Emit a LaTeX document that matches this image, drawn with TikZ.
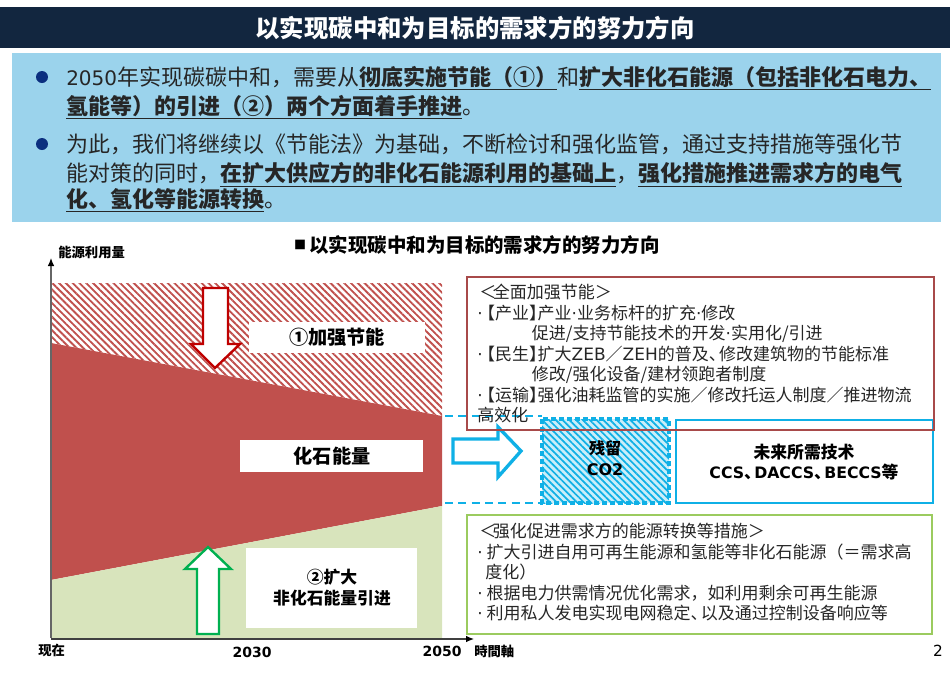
\documentclass[tikz,border=0pt]{standalone}
\usepackage{fontspec}
\setmainfont{Noto Sans CJK SC}
\newfontfamily\latfont{DejaVu Sans}
\newcommand{\lat}[1]{{\latfont #1}}
\newcommand{\ul}[1]{\underline{\textbf{#1}}}
\newcommand{\dotmark}{\lat{·}}
\newcommand{\leadmark}{\lat{·}\hspace{3pt}}
\newcommand{\lbrk}{\hspace{-0.5em}【}
\newcommand{\rbrk}{】\hspace{-0.5em}}
\newcommand{\dun}{、\hspace{-0.4em}}
\usepackage{xcolor}
\usepackage{tikz}
\usetikzlibrary{arrows.meta, patterns.meta}

\definecolor{TitleNavy}{HTML}{12263F}
\definecolor{PanelBlue}{HTML}{9BD3EC}
\definecolor{BulletBlue}{HTML}{0B2F7F}
\definecolor{FossilRed}{HTML}{C0504D}
\definecolor{RenewGreen}{HTML}{D8E4BC}
\definecolor{BoxRed}{HTML}{A84A4A}
\definecolor{BoxGreen}{HTML}{9BCB5F}
\definecolor{CoBlue}{HTML}{0FB0E6}
\definecolor{ArrowGreen}{HTML}{00B050}

\tikzset{
  every node/.style={inner sep=0pt, text=black},
  paratext/.style={anchor=north west, align=left, font=\fontsize{16.5}{21.75}\selectfont, text=black!85},
  boxtext/.style={anchor=north west, align=left, font=\fontsize{12.75}{15.4}\selectfont, text=black!85},
  labeltext/.style={align=center, font=\fontsize{14.4}{16}\selectfont\bfseries},
  smalllabel/.style={font=\fontsize{10}{12}\selectfont\bfseries},
  yearlabel/.style={font=\fontsize{10.5}{12}\selectfont\latfont\bfseries},
  hollow/.style={fill=white, line width=1.8pt, line join=miter},
  dashline/.style={draw=CoBlue, line width=1pt, dash pattern=on 6pt off 4pt},
}

\begin{document}
\begin{tikzpicture}[x=0.75pt, y=-0.75pt]
  \useasboundingbox (0,0) rectangle (950,672);

  % header
  \fill[TitleNavy] (0,7) rectangle (950,48);
  \node[text=white, font=\fontsize{18.3}{20}\selectfont\bfseries] (title) at (475,28) {以实现碳中和为目标的需求方的努力方向};
  \fill[PanelBlue] (12,53) rectangle (941,222);

  \fill[BulletBlue] (42,77) circle (6);
  \fill[BulletBlue] (42,144) circle (6);
  \node[paratext] (para1) at (66,66) {{\latfont\fontsize{15}{21.75}\selectfont 2050}年实现碳碳中和，需要从\ul{彻底实施节能（①）}和\ul{扩大非化石能源（包括非化石电力、}\\
    \ul{氢能等）的引进（②）两个方面着手推进}。};
  \node[paratext] (para2) at (66,134) {为此，我们将继续以《节能法》为基础，不断检讨和强化监管，通过支持措施等强化节\\
    能对策的同时，\ul{在扩大供应方的非化石能源利用的基础上}，\ul{强化措施推进需求方的电气}\\[-2.5pt]
    \ul{化、氢化等能源转换}。};

  \node[font=\fontsize{9}{10}\selectfont] (chart mark) at (300,245) {■};
  \node[font=\fontsize{14.6}{16}\selectfont\bfseries] (chart title) at (484.5,245) {以实现碳中和为目标的需求方的努力方向};

  % chart
  \coordinate (TL) at (51,283);
  \coordinate (TR) at (442,283);
  \coordinate (SL) at (51,343);
  \coordinate (SR) at (442,416);
  \coordinate (GL) at (51,580);
  \coordinate (GR) at (442,506);
  \coordinate (BL) at (51,638);
  \coordinate (BR) at (442,638);

  \fill[pattern={Lines[angle=-45, distance=3.6pt, line width=1.4pt]}, pattern color=FossilRed] (TL) -- (TR) -- (SR) -- (SL) -- cycle;
  \fill[FossilRed] (SL) -- (SR) -- (GR) -- (GL) -- cycle;
  \fill[RenewGreen] (GL) -- (GR) -- (BR) -- (BL) -- cycle;

  \coordinate (origin) at (51,638);
  \coordinate (ytop) at (51,258);
  \coordinate (xend) at (474,639);
  \draw[black!60, line width=0.9pt, -{Latex[black, length=6pt, width=5pt]}] (origin) -- (ytop);
  \draw[black!75, line width=0.9pt, -{Latex[black, length=6pt, width=5pt]}] (origin |- xend) -- (xend);

  \draw[hollow, draw=red!75!black] (203,288) -- (228,288) -- (228,344) -- (240,344) -- (215,368) -- (191,344) -- (203,344) -- cycle;
  \draw[hollow, draw=ArrowGreen] (197,634) -- (219,634) -- (219,569) -- (231,569) -- (208,547) -- (185,569) -- (197,569) -- cycle;

  \fill[white] (249,322) rectangle (425,353);
  \node[labeltext] (saving) at (337,337) {①加强节能};
  \fill[white] (240,440) rectangle (423,472);
  \node[labeltext] (fossil) at (332,456) {化石能量};
  \fill[white] (246,548) rectangle (417,628);
  \node[labeltext, font=\fontsize{12.6}{15.6}\selectfont\bfseries] (nonfossil) at (332,588) {②扩大\\非化石能量引进};

  \node[smalllabel, anchor=west] (yaxis) at (58,252) {能源利用量};
  \node[smalllabel, anchor=west] (now) at (38,650) {现在};
  \node[yearlabel] (y2030) at (252,652) {2030};
  \node[yearlabel] (y2050) at (442,651) {2050};
  \node[smalllabel, anchor=west] (xaxis) at (474,651) {時間軸};
  \node[font=\fontsize{11.5}{13}\selectfont\latfont] (page) at (938,651) {2};

  % residual part
  \coordinate (dashA) at (445,416);
  \coordinate (dashB) at (542,416);
  \coordinate (dashC) at (445,503);
  \coordinate (dashD) at (542,503);
  \draw[dashline] (dashA) -- (dashB);
  \draw[dashline] (dashC) -- (dashD);
  \draw[hollow, draw=CoBlue, line width=2.5pt] (453,439) -- (498,439) -- (498,427) -- (521,451) -- (498,477) -- (498,463) -- (453,463) -- cycle;

  \fill[CoBlue!22] (542,419) rectangle (669,503);
  \fill[pattern={Lines[angle=-45, distance=3.6pt, line width=1.3pt]}, pattern color=CoBlue] (542,419) rectangle (669,503);
  \draw[CoBlue, line width=2.4pt, dash pattern=on 4pt off 2pt] (542,419) rectangle (669,503);
  \node[labeltext, font=\fontsize{12}{15.6}\selectfont\bfseries] (residual) at (605,458) {残留\\\lat{CO2}};

  \draw[CoBlue, line width=1.8pt] (676,420) rectangle (933,503);
  \node[labeltext, font=\fontsize{12.6}{15}\selectfont\bfseries] (future) at (804,462) {未来所需技术\\{\latfont\fontsize{11.8}{15}\selectfont CCS}\dun{\latfont\fontsize{11.8}{15}\selectfont DACCS}\dun{\latfont\fontsize{11.8}{15}\selectfont BECCS}等};

  % text boxes
  \draw[BoxRed, line width=1.1pt] (467,277) rectangle (934,430);
  \node[boxtext] (savingtext) at (477,284) {\hspace{1.5pt}＜\hspace{-2.5pt}全面加强节能＞\\
    \leadmark\lbrk 产业\rbrk 产业\dotmark 业务标杆的扩充\dotmark 修改\\
    \hspace{41pt}促进/支持节能技术的开发\dotmark 实用化/引进\\
    \leadmark\lbrk 民生\rbrk 扩大\lat{ZEB}／\lat{ZEH}的普及\dun 修改建筑物的节能标准\\
    \hspace{41pt}修改/强化设备/建材领跑者制度\\
    \leadmark\lbrk 运输\rbrk 强化油耗监管的实施／修改托运人制度／推进物流\\
    高效化};

  \draw[BoxGreen, line width=1.8pt] (467,515) rectangle (932,634);
  \node[boxtext] (shifttext) at (477,523) {\hspace{1.5pt}＜\hspace{-2.5pt}强化促进需求方的能源转换等措施＞\\
    \leadmark 扩大引进自用可再生能源和氢能等非化石能源（＝需求高\\
    \hspace{6pt}度化）\\
    \leadmark 根据电力供需情况优化需求，如利用剩余可再生能源\\
    \leadmark 利用私人发电实现电网稳定\dun 以及通过控制设备响应等};

\end{tikzpicture}
\end{document}
